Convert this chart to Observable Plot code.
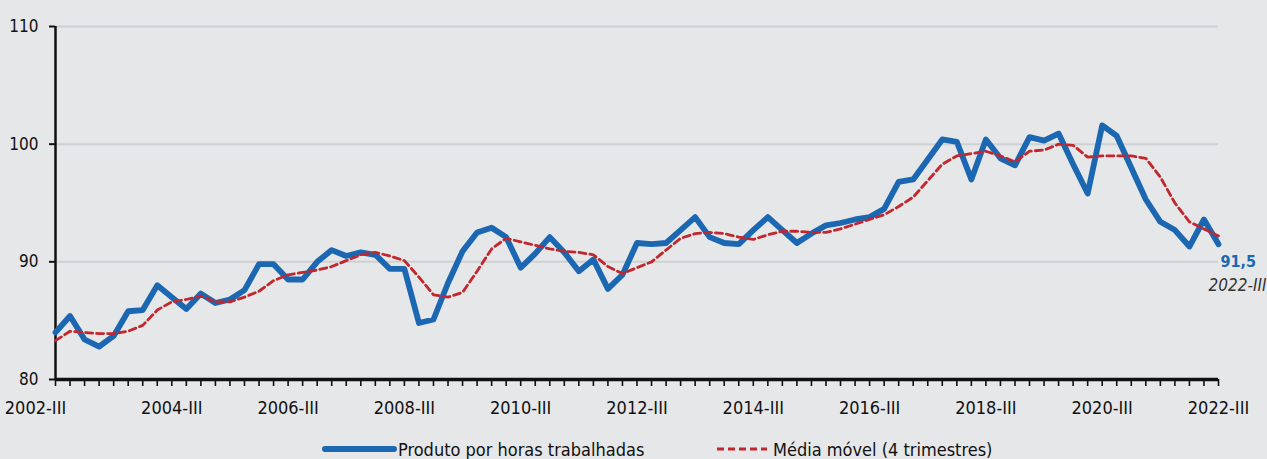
<!DOCTYPE html>
<html>
<head>
<meta charset="utf-8">
<script src="https://cdn.jsdelivr.net/npm/d3@7"></script>
<script src="https://cdn.jsdelivr.net/npm/@observablehq/plot@0.6"></script>
<style>
  html, body { margin: 0; padding: 0; background: #e6e7e9; }
  body { width: 1267px; height: 459px; position: relative; overflow: hidden; font-family: "DejaVu Sans Condensed", "DejaVu Sans", sans-serif; }
  #chart { position: absolute; left: 0; top: 0; }
  .legend { position: absolute; top: 437px; height: 24px; display: flex; align-items: center; font-size: 18px; color: #111; }
  .legend svg { display: block; }
</style>
</head>
<body>
<div id="chart"></div>
<div class="legend" style="left:322px">
  <svg width="76" height="12"><line x1="3" y1="6" x2="72" y2="6" stroke="#1b67b2" stroke-width="6" stroke-linecap="round"/></svg>
  <span>Produto por horas trabalhadas</span>
</div>
<div class="legend" style="left:717px">
  <svg width="56" height="12"><line x1="0" y1="6" x2="50" y2="6" stroke="#c1272d" stroke-width="3" stroke-dasharray="7,4"/></svg>
  <span>Média móvel (4 trimestres)</span>
</div>
<script>
const tickLabels = ["2002-III","2004-III","2006-III","2008-III","2010-III","2012-III","2014-III","2016-III","2018-III","2020-III","2022-III"];
const produto = [
  84.0,85.4,83.4,82.8,83.7,85.8,85.9,88.0,87.0,86.0,
  87.3,86.5,86.8,87.6,89.8,89.8,88.5,88.5,90.0,91.0,
  90.5,90.8,90.6,89.4,89.4,84.8,85.1,88.2,90.9,92.5,
  92.9,92.1,89.5,90.7,92.1,90.8,89.2,90.2,87.7,88.9,
  91.6,91.5,91.6,92.7,93.8,92.1,91.6,91.5,92.7,93.8,
  92.7,91.6,92.4,93.1,93.3,93.6,93.8,94.5,96.8,97.0,
  98.7,100.4,100.2,97.0,100.4,98.8,98.2,100.6,100.3,100.9,
  98.3,95.8,101.6,100.7,98.0,95.3,93.4,92.7,91.3,93.6,
  91.5
];
const media = [
  83.3,84.1,84.0,83.9,83.9,84.1,84.6,85.9,86.6,86.8,
  87.1,86.6,86.6,87.0,87.5,88.4,88.9,89.1,89.3,89.6,
  90.1,90.6,90.8,90.5,90.1,88.7,87.2,87.0,87.4,89.2,
  91.1,92.0,91.7,91.4,91.1,90.9,90.8,90.6,89.6,89.0,
  89.5,90.0,91.0,92.0,92.4,92.5,92.4,92.1,91.9,92.3,
  92.6,92.6,92.5,92.5,92.8,93.2,93.6,94.0,94.7,95.5,
  96.9,98.3,99.0,99.2,99.4,99.0,98.5,99.4,99.5,100.0,
  99.9,98.9,99.0,99.0,99.0,98.8,97.2,95.0,93.4,92.8,
  92.2
];
const yTicks = [80, 90, 100, 110];
const gridLines = [90, 100, 110];
const lastLabel = "91,5";
const lastPeriod = "2022-III";

const serieA = produto.map((v, i) => ({i, v}));
const serieB = media.map((v, i) => ({i, v}));
const labelData = tickLabels.map((t, k) => ({i: k * 8, t}));
const n = produto.length - 1;

const chart = Plot.plot({
  width: 1267,
  height: 425,
  marginTop: 26,
  marginBottom: 46,
  marginLeft: 55,
  marginRight: 49,
  style: { background: "transparent", fontFamily: "DejaVu Sans Condensed, DejaVu Sans, sans-serif", color: "#111" },
  x: { domain: [0, n], axis: null },
  y: { domain: [80, 110], axis: null },
  marks: [
    Plot.ruleY(gridLines, { stroke: "#cfd0d3", strokeWidth: 2 }),
    Plot.axisY({ ticks: yTicks, tickSize: 6, tickPadding: 11, fontSize: 17, stroke: "#111", strokeWidth: 2, label: null, tickFormat: d => String(d) }),
    Plot.axisX({ ticks: d3.range(0, n + 1), tickSize: 7, tickFormat: () => "", label: null, stroke: "#111", strokeWidth: 1.6 }),
    Plot.text(labelData.slice(1), { x: "i", y: () => 80, text: "t", dy: 29, fontSize: 18, fill: "#111" }),
    Plot.text(labelData.slice(0, 1), { x: "i", y: () => 80, text: "t", dy: 29, dx: -20, fontSize: 18, fill: "#111" }),
    Plot.ruleX([0], { y1: 80, y2: 110, stroke: "#111", strokeWidth: 2.5 }),
    Plot.ruleY([80], { x1: 0, x2: n, stroke: "#111", strokeWidth: 3.5 }),
    Plot.line(serieA, { x: "i", y: "v", stroke: "#1b67b2", strokeWidth: 5.8, strokeLinejoin: "round" }),
    Plot.line(serieB, { x: "i", y: "v", stroke: "#c1272d", strokeWidth: 2.8, strokeDasharray: "7,4" }),
    Plot.text([serieA[n]], { x: "i", y: "v", text: () => lastLabel, dx: 2, dy: 18, textAnchor: "start", fontSize: 16, fontWeight: "bold", fill: "#1b67b2" }),
    Plot.text([serieA[n]], { x: "i", y: "v", text: () => lastPeriod, dx: 48, dy: 41, textAnchor: "end", fontSize: 17, fontStyle: "italic", fill: "#333" })
  ]
});
document.getElementById("chart").appendChild(chart);
</script>
</body>
</html>
